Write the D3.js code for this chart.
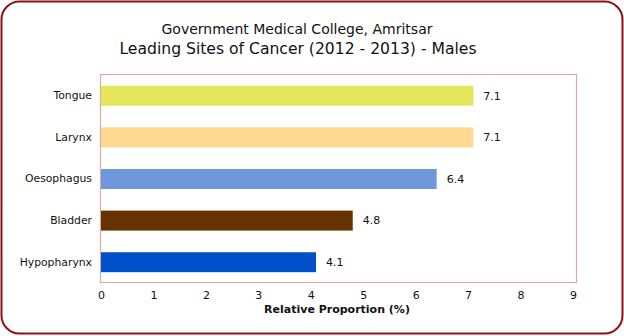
<!DOCTYPE html>
<html><head><meta charset="utf-8">
<script src="https://cdn.jsdelivr.net/npm/d3@7"></script>
<style>body{margin:0;background:#fff}svg{display:block}text{font-family:"DejaVu Sans",sans-serif}</style>
</head><body>
<script>
const categories = ["Tongue","Larynx","Oesophagus","Bladder","Hypopharynx"];
const values = [7.1, 7.1, 6.4, 4.8, 4.1];
const colors = ["#e6e65c","#ffd992","#7096dc","#663300","#0050cc"];
const tickValues = [0,1,2,3,4,5,6,7,8,9];
const title1 = "Government Medical College, Amritsar";
const title2 = "Leading Sites of Cancer (2012 - 2013) - Males";
const xLabel = "Relative Proportion (%)";

const W = 624, H = 336;
const svg = d3.select("body").append("svg").attr("width", W).attr("height", H);

svg.append("rect").attr("x",1.5).attr("y",1.5).attr("width",W-3).attr("height",H-4)
  .attr("rx",18).attr("ry",18).attr("fill","#fff").attr("stroke","#8b1212").attr("stroke-width",2);

svg.append("text").attr("x",297).attr("y",34).attr("text-anchor","middle")
  .attr("font-size",14).attr("fill","#111").text(title1);
svg.append("text").attr("x",298).attr("y",54).attr("text-anchor","middle")
  .attr("font-size",15.6).attr("fill","#111").text(title2);

const x = d3.scaleLinear().domain([0,9]).range([101,573]);
const y = d3.scaleBand().domain(categories).range([75,283]).paddingInner(0.52).paddingOuter(0.26);

svg.append("rect").attr("x",100.5).attr("y",74.5).attr("width",476).attr("height",208)
  .attr("fill","none").attr("stroke","#dcaaaa").attr("stroke-width",1.2);

svg.selectAll(".bar").data(categories).enter().append("rect")
  .attr("x", x(0)).attr("y", d=>y(d)).attr("height", y.bandwidth())
  .attr("width", (d,i)=>x(values[i])-x(0)).attr("fill",(d,i)=>colors[i]);

svg.selectAll(".val").data(categories).enter().append("text")
  .attr("x",(d,i)=>x(values[i])+10).attr("y",d=>y(d)+y.bandwidth()/2).attr("dy","0.35em")
  .attr("font-size",11).attr("fill","#111").text((d,i)=>values[i].toFixed(1));

const yAxis = svg.append("g").attr("transform","translate(100,0)")
  .call(d3.axisLeft(y).tickSize(0).tickPadding(8));
yAxis.select(".domain").remove();
yAxis.selectAll("text").attr("font-size",10.8).attr("fill","#111").attr("font-family","DejaVu Sans");

const xAxis = svg.append("g").attr("transform","translate(0,283)")
  .call(d3.axisBottom(x).tickValues(tickValues).tickFormat(d3.format("d")).tickSize(0).tickPadding(8));
xAxis.select(".domain").remove();
xAxis.selectAll("text").attr("font-size",11).attr("fill","#111").attr("font-family","DejaVu Sans");

svg.append("text").attr("x",337).attr("y",313).attr("text-anchor","middle")
  .attr("font-size",11).attr("font-weight","bold").attr("fill","#111").text(xLabel);
</script>
</body></html>
